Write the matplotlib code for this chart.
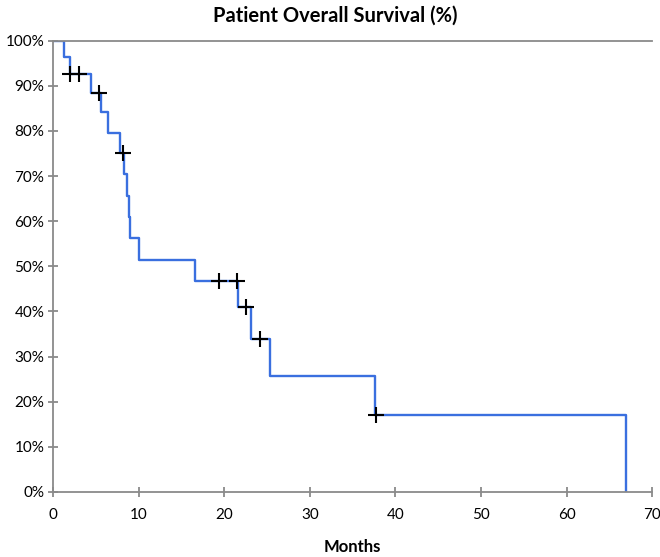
import matplotlib.pyplot as plt
from matplotlib.ticker import FuncFormatter

# Kaplan-Meier steps (months, % surviving)
step_months = [0, 1.3, 1.95, 4.4, 5.6, 6.45, 7.8, 8.3, 8.65, 8.85, 9.0, 10.0,
               16.6, 21.6, 23.1, 25.3, 37.6, 66.9]
step_surv = [100, 96.3, 92.6, 88.4, 84.2, 79.6, 75.0, 70.4, 65.6, 61.0, 56.2, 51.5,
             46.8, 40.9, 34.0, 25.6, 17.0, 0]

# censored patients
cens_months = [2.0, 3.0, 5.35, 8.2, 19.4, 21.45, 22.5, 24.2, 37.7]
cens_surv = [92.6, 92.6, 88.4, 75.0, 46.8, 46.8, 40.9, 34.0, 17.0]

x_ticks = [0, 10, 20, 30, 40, 50, 60, 70]
y_ticks = [0, 10, 20, 30, 40, 50, 60, 70, 80, 90, 100]

plt.rcParams['font.family'] = ['Lato', 'DejaVu Sans']
axis_grey = '#8a8a8a'

fig = plt.figure(figsize=(6.6, 5.57), dpi=100)
ax = fig.add_axes([0.0808, 0.1167, 0.9072, 0.8103])

ax.step(step_months, step_surv, where='post', color='#3a6fdf', lw=1.7, zorder=2)
ax.plot(cens_months, cens_surv, linestyle='none', marker='+', markersize=11,
        markeredgewidth=1.5, color='black', zorder=3)

ax.set_xlim(0, 70)
ax.set_ylim(0, 100)
ax.set_xticks(x_ticks)
ax.set_yticks(y_ticks)
ax.yaxis.set_major_formatter(FuncFormatter(lambda v, p: '{:.0f}%'.format(v)))

for side in ['left', 'bottom', 'top']:
    ax.spines[side].set_color(axis_grey)
    ax.spines[side].set_linewidth(1.3)
ax.spines['right'].set_visible(False)
ax.tick_params(axis='both', direction='inout', length=7, width=1.3,
               color=axis_grey, labelsize=11, labelcolor='black')
ax.tick_params(axis='x', pad=8)
ax.tick_params(axis='y', pad=3)

ax.set_title('Patient Overall Survival (%)', fontsize=14.5, fontweight='bold',
             x=0.4705, pad=14)
ax.set_xlabel('Months', fontsize=12, fontweight='bold', labelpad=12)

fig.savefig('out.png', dpi=100)
